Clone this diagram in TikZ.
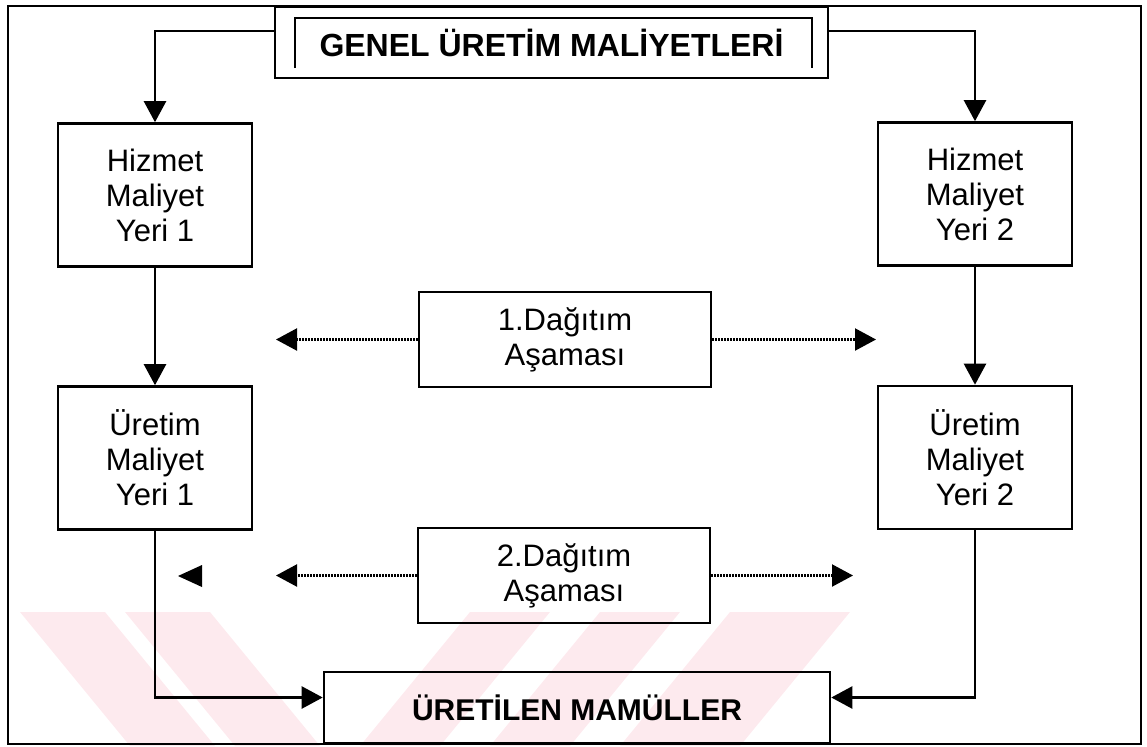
\documentclass[tikz,border=0pt]{standalone}
\usepackage{fontspec}
\setmainfont{Liberation Sans}
\usetikzlibrary{arrows.meta,positioning}
\definecolor{wmpink}{HTML}{FDEAEE}
\tikzset{
    costbox/.style={draw, line width=1.3pt, minimum width=97pt, minimum height=71.5pt,
        inner sep=0pt, align=center, font=\fontsize{15.5}{17.5}\selectfont},
    stagebox/.style={draw, line width=1.3pt, minimum width=146pt, minimum height=47.5pt,
        inner sep=0pt, align=center, font=\fontsize{15.5}{17.5}\selectfont},
    headbox/.style={draw, line width=1.3pt, inner sep=0pt,
        font=\fontsize{16}{19}\selectfont\bfseries},
    arr/.style={line width=1.2pt, -{Triangle[length=10.5pt,width=11pt]}},
    dotarr/.style={line width=1.1pt, dash pattern=on 0.9pt off 0.6pt,
        -{Triangle[length=10.5pt,width=11pt]}},
    wm/.style={fill=wmpink, draw=none},
}

\begin{document}
\begin{tikzpicture}[x=0.5pt,y=-0.5pt]
\useasboundingbox (0,0) rectangle (1147,746);

% watermark stripes
\fill[wm] (20,612) -- (105,612) -- (215,746) -- (130,746) -- cycle;
\fill[wm] (125,612) -- (210,612) -- (320,746) -- (235,746) -- cycle;
\fill[wm] (470,612) -- (550,612) -- (440,746) -- (360,746) -- cycle;
\fill[wm] (600,612) -- (680,612) -- (570,746) -- (490,746) -- cycle;
\fill[wm] (730,612) -- (850,612) -- (740,746) -- (620,746) -- cycle;

\draw[line width=1.3pt] (8,6) rectangle (1141,744);

\node[headbox, minimum width=276.5pt, minimum height=35.5pt] (genel) at (551.5,42.5)
    {GENEL ÜRETİM MALİYETLERİ};
\draw[line width=1pt] (295,68) |- (812,18) -- (812,68);

\node[costbox] (hiz1) at (155,195) {Hizmet\\Maliyet\\Yeri 1};
\node[costbox] (hiz2) at (975,194) {Hizmet\\Maliyet\\Yeri 2};
\node[costbox] (ure1) at (155,458) {Üretim\\Maliyet\\Yeri 1};
\node[costbox] (ure2) at (975,457.5) {Üretim\\Maliyet\\Yeri 2};

\node[stagebox] (dag1) at (565,339.5) {1.Dağıtım\\Aşaması};
\node[stagebox] (dag2) at (564,575.5) {2.Dağıtım\\Aşaması};

\node[headbox, minimum width=253pt, minimum height=35.5pt, font=\fontsize{15}{18}\selectfont\bfseries]
    (mamul) at (577,707.5) {ÜRETİLEN MAMÜLLER};

\coordinate (d1l) at (276,339.5);
\coordinate (d1r) at (876,339.5);
\coordinate (d2l) at (276,575.5);
\coordinate (d2r) at (853,575.5);

\draw[arr] ([yshift=5.75pt]genel.west) -| (hiz1.north);
\draw[arr] ([yshift=5.75pt]genel.east) -| (hiz2.north);
\draw[arr] (hiz1) -- (ure1);
\draw[arr] (hiz2) -- (ure2);

\draw[dotarr] (dag1.west) -- (d1l);
\draw[dotarr] (dag1.east) -- (d1r);
\draw[dotarr] (dag2.west) -- (d2l);
\draw[dotarr] (dag2.east) -- (d2r);
\fill (178,576) -- (202,565) -- (202,587) -- cycle;

\draw[arr] (ure1.south) |- ([yshift=5pt]mamul.west);
\draw[arr] (ure2.south) |- ([yshift=5pt]mamul.east);
\end{tikzpicture}
\end{document}
